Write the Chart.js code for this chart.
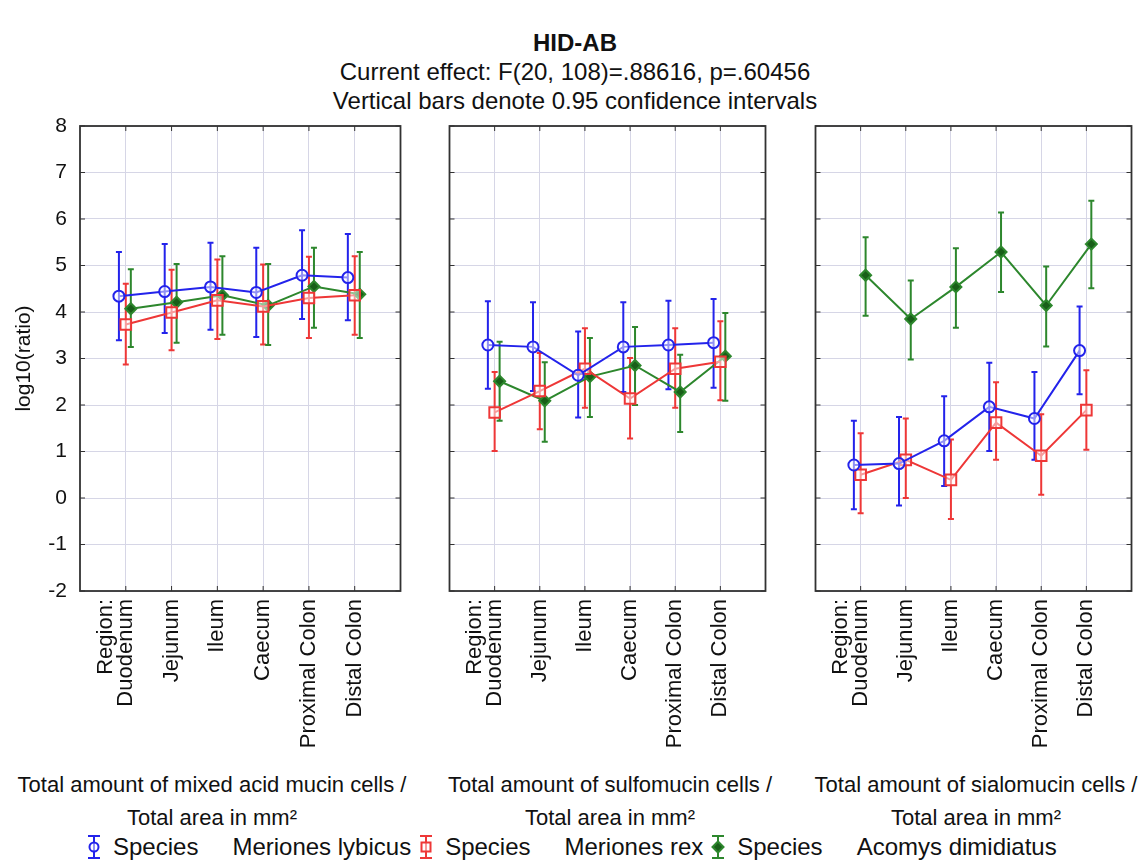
<!DOCTYPE html>
<html>
<head>
<meta charset="utf-8">
<script src="https://cdn.jsdelivr.net/npm/chart.js@4.4.1/dist/chart.umd.min.js"></script>
<style>
  html, body { margin: 0; padding: 0; background: #fff; }
  body { width: 1141px; height: 860px; position: relative; overflow: hidden; font-family: "Liberation Sans", Arial, sans-serif; color: #111; }
  canvas.panel { position: absolute; top: 100px; }
  #title { position: absolute; left: 0; top: 28px; width: 1150px; text-align: center; font-size: 24px; line-height: 29px; }
  .xtitle { position: absolute; top: 768px; width: 440px; text-align: center; font-size: 22px; line-height: 33px; white-space: nowrap; }
  #legend { position: absolute; left: 85px; top: 832px; display: flex; align-items: center; font-size: 24px; line-height: 30px; white-space: nowrap; }
  #legend canvas { margin-right: 10px; }
  #legend .sp { margin-right: 34px; }
  #legend .nm { margin-right: 6px; }
</style>
</head>
<body>
<div id="title"><b>HID-AB</b><br>Current effect: F(20, 108)=.88616, p=.60456<br>Vertical bars denote 0.95 confidence intervals</div>

<canvas class="panel" id="mixedChart" width="410" height="660" style="left:0px"></canvas>
<canvas class="panel" id="sulfoChart" width="335" height="660" style="left:440px"></canvas>
<canvas class="panel" id="sialoChart" width="335" height="660" style="left:806px"></canvas>

<div class="xtitle" style="left:-8px">Total amount of mixed acid mucin cells /<br>Total area in mm²</div>
<div class="xtitle" style="left:390px">Total amount of sulfomucin cells /<br>Total area in mm²</div>
<div class="xtitle" style="left:756px">Total amount of sialomucin cells /<br>Total area in mm²</div>

<div id="legend"></div>

<script>
const regions = ['Duodenum', 'Jejunum', 'Ileum', 'Caecum', 'Proximal Colon', 'Distal Colon'];
const regionLead = 'Region:';
const speciesNames = ['Meriones lybicus', 'Meriones rex', 'Acomys dimidiatus'];
const yTicks = [-2, 8];

// mixed acid mucin cells
const lybicusMixed = [4.34, 4.44, 4.54, 4.42, 4.79, 4.74];
const lybicusMixedLow = [3.39, 3.55, 3.62, 3.46, 3.85, 3.82];
const lybicusMixedHigh = [5.29, 5.46, 5.49, 5.38, 5.76, 5.68];
const rexMixed = [3.73, 3.99, 4.25, 4.12, 4.30, 4.36];
const rexMixedLow = [2.87, 3.18, 3.42, 3.30, 3.44, 3.51];
const rexMixedHigh = [4.61, 4.91, 5.13, 5.02, 5.19, 5.20];
const acomysMixed = [4.07, 4.21, 4.36, 4.14, 4.55, 4.38];
const acomysMixedLow = [3.25, 3.34, 3.51, 3.29, 3.66, 3.44];
const acomysMixedHigh = [4.92, 5.03, 5.20, 5.03, 5.38, 5.29];

// sulfomucin cells
const lybicusSulfo = [3.29, 3.25, 2.64, 3.25, 3.29, 3.34];
const lybicusSulfoLow = [2.35, 2.30, 1.73, 2.28, 2.34, 2.37];
const lybicusSulfoHigh = [4.23, 4.21, 3.58, 4.21, 4.24, 4.28];
const rexSulfo = [1.84, 2.30, 2.78, 2.14, 2.78, 2.93];
const rexSulfoLow = [1.01, 1.48, 1.94, 1.28, 1.94, 2.10];
const rexSulfoHigh = [2.71, 3.12, 3.65, 3.01, 3.65, 3.80];
const acomysSulfo = [2.51, 2.09, 2.61, 2.85, 2.28, 3.05];
const acomysSulfoLow = [1.66, 1.21, 1.74, 2.00, 1.42, 2.09];
const acomysSulfoHigh = [3.36, 2.92, 3.44, 3.68, 3.08, 3.98];

// sialomucin cells
const lybicusSialo = [0.71, 0.74, 1.23, 1.96, 1.71, 3.17];
const lybicusSialoLow = [-0.24, -0.16, 0.26, 1.01, 0.82, 2.23];
const lybicusSialoHigh = [1.66, 1.74, 2.19, 2.91, 2.71, 4.12];
const rexSialo = [0.50, 0.82, 0.39, 1.62, 0.91, 1.89];
const rexSialoLow = [-0.33, 0.00, -0.45, 0.82, 0.07, 1.04];
const rexSialoHigh = [1.39, 1.71, 1.26, 2.49, 1.80, 2.75];
const acomysSialo = [4.79, 3.85, 4.54, 5.29, 4.14, 5.46];
const acomysSialoLow = [3.92, 2.98, 3.66, 4.43, 3.26, 4.51];
const acomysSialoHigh = [5.61, 4.68, 5.37, 6.14, 4.98, 6.39];

const seriesColors = ['rgb(35, 35, 235)', 'rgb(238, 55, 55)', 'rgb(45, 135, 45)'];
const seriesFill = ['rgba(255, 255, 255, 0.5)', 'rgba(255, 255, 255, 0.5)', 'rgb(25, 95, 25)'];
const seriesStyle = ['circle', 'rect', 'rectRot'];
const seriesRadius = [5.5, 7.5, 5.5];
const seriesShift = [-0.15, 0, 0.11];
const gridColor = 'rgb(214, 214, 230)';
const frameColor = 'rgb(50, 50, 50)';

Chart.defaults.font.family = '"Liberation Sans", Arial, sans-serif';
Chart.defaults.color = '#111';

const errorBars = {
  id: 'errorBars',
  beforeDatasetsDraw(chart) {
    const { ctx, scales: { x, y } } = chart;
    chart.data.datasets.forEach((ds) => {
      ctx.save();
      ctx.strokeStyle = ds.borderColor;
      ctx.lineWidth = 2;
      ds.data.forEach((pt, i) => {
        const px = x.getPixelForValue(pt.x);
        const top = y.getPixelForValue(ds.highs[i]);
        const bot = y.getPixelForValue(ds.lows[i]);
        ctx.beginPath();
        ctx.moveTo(px, top); ctx.lineTo(px, bot);
        ctx.moveTo(px - 3, top); ctx.lineTo(px + 3, top);
        ctx.moveTo(px - 3, bot); ctx.lineTo(px + 3, bot);
        ctx.stroke();
      });
      ctx.restore();
    });
  }
};

// box around plot area with short inward tick marks
const frame = {
  id: 'frame',
  afterDraw(chart) {
    const { ctx, chartArea: a, scales: { x, y } } = chart;
    ctx.save();
    ctx.strokeStyle = frameColor;
    ctx.lineWidth = 1;
    ctx.beginPath();
    y.ticks.forEach((t) => {
      const py = y.getPixelForValue(t.value);
      ctx.moveTo(a.left, py); ctx.lineTo(a.left + 5, py);
      ctx.moveTo(a.right - 5, py); ctx.lineTo(a.right, py);
    });
    x.ticks.forEach((t) => {
      if (t.value < 1) return;
      const px = x.getPixelForValue(t.value);
      ctx.moveTo(px, a.top); ctx.lineTo(px, a.top + 5);
      ctx.moveTo(px, a.bottom - 5); ctx.lineTo(px, a.bottom);
    });
    ctx.stroke();
    ctx.lineWidth = 1.8;
    ctx.strokeRect(a.left, a.top, a.right - a.left, a.bottom - a.top);
    ctx.restore();
  }
};

function makePanel(id, sets, showY) {
  const canvas = document.getElementById(id);
  const yWidth = showY ? 80 : 6;
  const rightPad = id === 'sialoChart' ? 6 : 7;
  return new Chart(canvas.getContext('2d'), {
    type: 'line',
    data: {
      datasets: sets.map((s, k) => ({
        label: speciesNames[k],
        data: s.mean.map((v, i) => ({ x: i + 1 + seriesShift[k], y: v })),
        lows: s.low,
        highs: s.high,
        borderColor: seriesColors[k],
        backgroundColor: seriesFill[k],
        pointBackgroundColor: seriesFill[k],
        pointBorderColor: seriesColors[k],
        pointStyle: seriesStyle[k],
        pointRadius: seriesRadius[k],
        pointBorderWidth: 2,
        borderWidth: 2,
        tension: 0,
        fill: false
      }))
    },
    options: {
      responsive: false,
      animation: false,
      layout: { padding: { top: 26, right: rightPad, left: 0, bottom: 0 } },
      plugins: { legend: { display: false }, tooltip: { enabled: false } },
      scales: {
        x: {
          type: 'linear',
          min: 0,
          max: 7,
          afterBuildTicks: (scale) => {
            scale.ticks = [{ value: 0.57 }].concat(regions.map((r, i) => ({ value: i + 1 })));
          },
          afterFit: (scale) => { scale.height = 169; },
          ticks: {
            autoSkip: false,
            minRotation: 90,
            maxRotation: 90,
            padding: 8,
            font: { size: 22 },
            callback: (v) => (v < 1 ? regionLead : regions[v - 1])
          },
          grid: {
            color: (c) => (c.tick && c.tick.value < 1 ? 'rgba(0,0,0,0)' : gridColor),
            drawTicks: false
          },
          border: { display: false }
        },
        y: {
          min: yTicks[0],
          max: yTicks[1],
          afterFit: (scale) => { scale.width = yWidth; },
          ticks: { display: showY, stepSize: 1, padding: 13, font: { size: 21 } },
          grid: { color: gridColor, drawTicks: false },
          border: { display: false },
          title: {
            display: showY,
            text: 'log10(ratio)',
            font: { size: 21 },
            padding: { top: 12, bottom: 0 }
          }
        }
      }
    },
    plugins: [errorBars, frame]
  });
}

makePanel('mixedChart', [
  { mean: lybicusMixed, low: lybicusMixedLow, high: lybicusMixedHigh },
  { mean: rexMixed, low: rexMixedLow, high: rexMixedHigh },
  { mean: acomysMixed, low: acomysMixedLow, high: acomysMixedHigh }
], true);

makePanel('sulfoChart', [
  { mean: lybicusSulfo, low: lybicusSulfoLow, high: lybicusSulfoHigh },
  { mean: rexSulfo, low: rexSulfoLow, high: rexSulfoHigh },
  { mean: acomysSulfo, low: acomysSulfoLow, high: acomysSulfoHigh }
], false);

makePanel('sialoChart', [
  { mean: lybicusSialo, low: lybicusSialoLow, high: lybicusSialoHigh },
  { mean: rexSialo, low: rexSialoLow, high: rexSialoHigh },
  { mean: acomysSialo, low: acomysSialoLow, high: acomysSialoHigh }
], false);

// legend: error bar glyph + "Species" + species name
const legend = document.getElementById('legend');
speciesNames.forEach((name, k) => {
  const icon = document.createElement('canvas');
  icon.width = 18;
  icon.height = 26;
  const g = icon.getContext('2d');
  g.strokeStyle = seriesColors[k];
  g.fillStyle = seriesFill[k];
  g.lineWidth = 2;
  g.beginPath();
  g.moveTo(9, 2); g.lineTo(9, 24);
  g.moveTo(3, 2); g.lineTo(15, 2);
  g.moveTo(3, 24); g.lineTo(15, 24);
  g.stroke();
  g.beginPath();
  if (seriesStyle[k] === 'circle') {
    g.arc(9, 13, 4.5, 0, Math.PI * 2);
  } else if (seriesStyle[k] === 'rect') {
    g.rect(4.5, 8.5, 9, 9);
  } else {
    g.moveTo(9, 7.5); g.lineTo(14.5, 13); g.lineTo(9, 18.5); g.lineTo(3.5, 13); g.closePath();
  }
  g.fill();
  g.stroke();
  legend.appendChild(icon);
  const sp = document.createElement('span');
  sp.className = 'sp';
  sp.textContent = 'Species';
  legend.appendChild(sp);
  const nm = document.createElement('span');
  nm.className = 'nm';
  nm.textContent = name;
  legend.appendChild(nm);
});
</script>
</body>
</html>
